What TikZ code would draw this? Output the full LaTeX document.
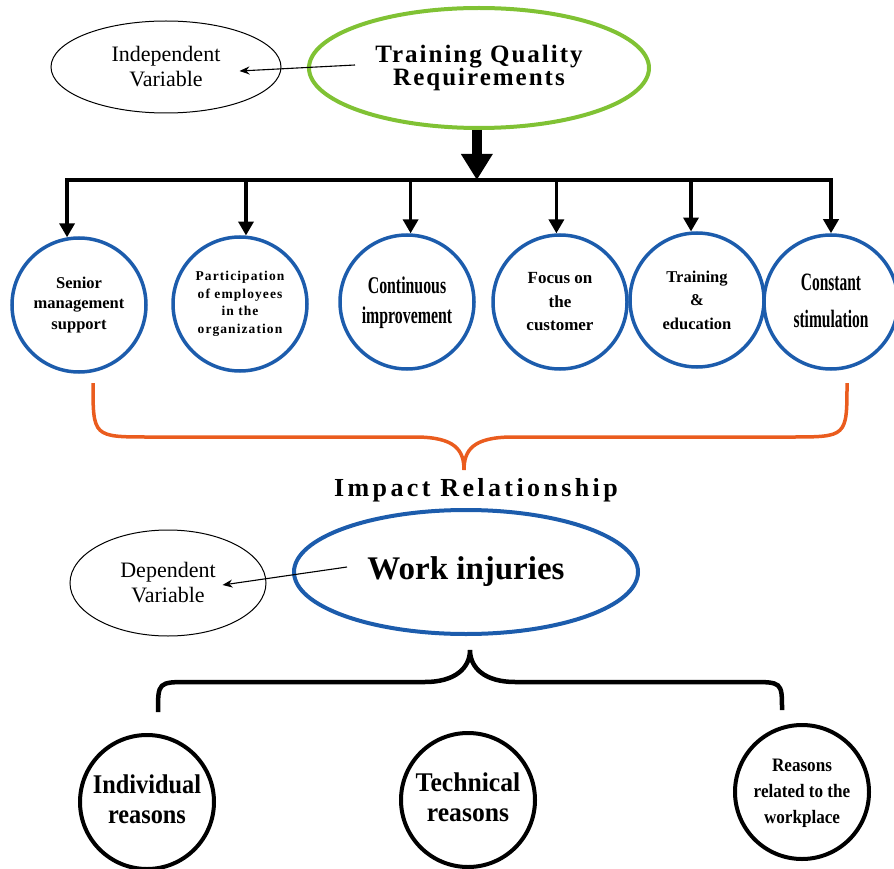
\documentclass[tikz,border=0pt]{standalone}
\usepackage{fontspec}
\setmainfont{Liberation Serif}
\newfontfamily\spacedfont[LetterSpace=8]{Liberation Serif}
\usetikzlibrary{arrows.meta,shapes.geometric,calc}

\definecolor{ringblue}{RGB}{28,92,172}
\definecolor{tqgreen}{RGB}{128,194,52}
\definecolor{braceorange}{RGB}{234,92,30}

\newcommand{\squeeze}[2]{\scalebox{#1}[1]{\begin{tabular}{@{}c@{}}#2\end{tabular}}}

\tikzset{
  varnode/.style={draw, ellipse, line width=1pt, inner sep=0pt, align=center, font=\fontsize{22}{25}\selectfont},
  factor/.style={draw=ringblue, circle, line width=3.5pt, minimum size=134pt, inner sep=0pt, align=center},
  reason/.style={draw, circle, line width=4pt, minimum size=134pt, inner sep=0pt, align=center},
  smallarrow/.style={line width=3.5pt, -{Triangle[width=15pt,length=14pt]}},
  thinarrow/.style={line width=1.1pt, -{Stealth[width=8pt,length=10pt]}},
}

\begin{document}
\begin{tikzpicture}[x=1pt,y=-1pt]
\useasboundingbox (0,0) rectangle (894,869);

\node[varnode, minimum width=230pt, minimum height=92pt] (iv) at (166,67) {Independent\\Variable};
\node[draw=tqgreen, ellipse, line width=4pt, minimum width=340pt, minimum height=120pt, align=center,
  font=\spacedfont\bfseries\fontsize{25}{23}\selectfont] (tqr) at (479,68) {Training Quality\\Requirements};
\draw[thinarrow] ($(tqr.west)+(48,-3)$) -- ($(iv.east)+(-42,4)$);

\node[factor, font=\bfseries\fontsize{16.5}{20.5}\selectfont] (c1) at (79,305) {Senior\\management\\support};
\node[factor, font=\spacedfont\bfseries\fontsize{13.5}{17.5}\selectfont] (c2) at (240,304) {Participation\\of employees\\in the\\organization};
\node[factor, font=\bfseries\fontsize{24}{30}\selectfont] (c3) at (407,302) {\squeeze{0.66}{Continuous\\improvement}};
\node[factor, font=\bfseries\fontsize{17}{23.5}\selectfont] (c4) at (560,302) {Focus on\\the\\customer};
\node[factor, font=\bfseries\fontsize{16.5}{23.5}\selectfont] (c5) at (697,300) {Training\\\&\\education};
\node[factor, font=\bfseries\fontsize{25}{37}\selectfont] (c6) at (831,302) {\squeeze{0.62}{Constant\\stimulation}};

\coordinate (bar) at (472,180);
\draw[line width=10pt, -{Triangle[width=30pt,length=26pt]}] (tqr.268) -- (tqr.268 |- bar);
\draw[line width=4.5pt, line cap=rect] (c1.100 |- bar) -- (c6.90 |- bar);
\foreach \n/\a in {c1/100, c2/85, c3/87, c4/93, c5/95, c6/90}
  \draw[smallarrow] (\n.\a |- bar) -- (\n.\a);

\draw[braceorange, line width=3.5pt] (93,383) .. controls (93,437) .. (150,437) -- (415,437)
  .. controls (455,437) and (464,450) .. (464,470)
  .. controls (464,450) and (473,437) .. (513,437) -- (790,437)
  .. controls (847,437) .. (847,383);

\node[font=\spacedfont\bfseries\fontsize{26}{28}\selectfont\addfontfeature{LetterSpace=13}] (impact) at (476,490) {Impact Relationship};

\node[varnode, minimum width=196pt, minimum height=106pt] (dv) at (168,583) {Dependent\\Variable};
\node[draw=ringblue, ellipse, line width=4pt, minimum width=344pt, minimum height=124pt,
  font=\bfseries\fontsize{33}{36}\selectfont] (wi) at (466,572) {Work injuries};
\draw[thinarrow] ($(wi.west)+(55,-5)$) -- ($(dv.east)+(-44,2)$);

\draw[line width=4.5pt] (158,712) .. controls (158,682) .. (190,682) -- (425,682)
  .. controls (455,682) and (470,668) .. (470,650)
  .. controls (470,668) and (485,682) .. (515,682) -- (750,682)
  .. controls (782,682) .. (782,710);

\node[reason, font=\bfseries\fontsize{27}{30}\selectfont] (r1) at (147,802) {\squeeze{0.9}{Individual\\reasons}};
\node[reason, font=\bfseries\fontsize{27}{30}\selectfont] (r2) at (468,800) {\squeeze{0.95}{Technical\\reasons}};
\node[reason, font=\bfseries\fontsize{19}{26}\selectfont] (r3) at (802,792) {\squeeze{0.9}{Reasons\\related to the\\workplace}};
\end{tikzpicture}
\end{document}
